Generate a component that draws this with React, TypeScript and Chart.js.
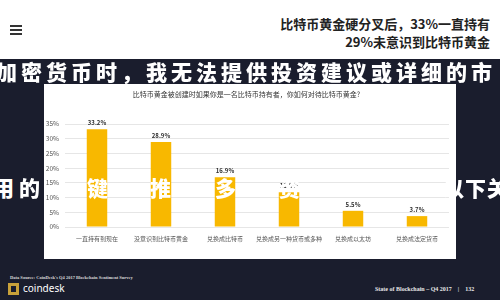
import React, { useEffect, useRef } from "react";
import { Chart, registerables } from "chart.js";

Chart.register(...registerables);

const chartTitle = "比特币黄金被创建时如果你是一名比特币持有者，你如何对待比特币黄金?";
const categories = [
  "一直持有到现在",
  "没意识到比特币黄金",
  "兑换成比特币",
  "兑换成另一种货币或多种",
  "兑换成以太坊",
  "兑换成法定货币",
];
const values = [33.2, 28.9, 16.9, 11.8, 5.5, 3.7];
const yMax = 35;
const yStep = 5;

const headline1 = "比特币黄金硬分叉后，33%一直持有";
const headline2 = "29%未意识到比特币黄金";
const overlayLine1 = "加密货币时，我无法提供投资建议或详细的市";
const overlayLine2 = [
  { ch: "用", x: -7 },
  { ch: "的", x: 19 },
  { ch: "键", x: 87 },
  { ch: "推", x: 150 },
  { ch: "多", x: 215 },
  { ch: "资", x: 279 },
  { ch: "以", x: 443 },
  { ch: "下", x: 465 },
  { ch: "关", x: 487 },
];
const sourceText = "Data Source: CoinDesk's Q4 2017 Blockchain Sentiment Survey";
const footerText = "State of Blockchain – Q4 2017";
const pageNumber = "132";

const CJK = '"Noto Sans CJK SC", "Noto Sans", sans-serif';
const BAR = "#F8B800";

const valueLabels = {
  id: "valueLabels",
  afterDatasetsDraw(chart: any) {
    const ctx = chart.ctx;
    const meta = chart.getDatasetMeta(0);
    ctx.save();
    ctx.font = `bold 6px ${CJK}`;
    ctx.fillStyle = "#333";
    ctx.textAlign = "center";
    ctx.textBaseline = "bottom";
    meta.data.forEach((bar: any, i: number) => {
      ctx.fillText(values[i].toFixed(1) + "%", bar.x, bar.y - 3.5);
    });
    ctx.restore();
  },
};

function BarChart() {
  const ref = useRef<HTMLCanvasElement>(null);
  useEffect(() => {
    if (!ref.current) return;
    const chart = new Chart(ref.current, {
      type: "bar",
      data: {
        labels: categories,
        datasets: [
          {
            data: values,
            backgroundColor: BAR,
            borderWidth: 0,
            categoryPercentage: 1,
            barPercentage: 0.32,
          },
        ],
      },
      options: {
        animation: false,
        responsive: true,
        maintainAspectRatio: false,
        layout: { padding: { left: 0, right: 7, top: 0, bottom: 0 } },
        plugins: {
          legend: { display: false },
          tooltip: { enabled: false },
          title: {
            display: true,
            text: chartTitle,
            color: "#333",
            font: { size: 7, family: CJK, weight: "normal" },
            padding: { top: 6, bottom: 25.6 },
          },
        },
        scales: {
          x: {
            grid: { display: false, drawTicks: false },
            border: { display: false },
            ticks: {
              color: "#555",
              font: { size: 6, family: CJK },
              padding: 8,
              maxRotation: 0,
              autoSkip: false,
            },
            afterFit: (s: any) => {
              s.height = 32;
            },
          },
          y: {
            min: 0,
            max: yMax,
            ticks: {
              stepSize: yStep,
              callback: (v: any) => v + "%",
              color: "#555",
              font: { size: 6.5, family: CJK },
              padding: 6,
            },
            grid: { color: "#e6e6e6", drawTicks: false },
            border: { display: false },
            afterFit: (s: any) => {
              s.width = 21;
            },
          },
        },
      },
      plugins: [valueLabels],
    });
    return () => chart.destroy();
  }, []);
  return <canvas ref={ref} />;
}

export default function App() {
  const abs = (o: React.CSSProperties): React.CSSProperties => ({ position: "absolute", ...o });
  return (
    <div
      style={{
        position: "fixed",
        left: 0,
        top: 0,
        width: 500,
        height: 300,
        overflow: "hidden",
        background: "#1a1d2d",
        fontFamily: CJK,
      }}
    >
      {/* top white header */}
      <div style={abs({ left: 0, top: 0, width: 500, height: 59, background: "#ffffff" })} />
      {/* hamburger */}
      {[0, 4, 8].map((d) => (
        <div key={d} style={abs({ left: 10, top: 25 + d, width: 12, height: 2, background: "#333" })} />
      ))}
      <div
        style={abs({
          right: 10,
          top: 15,
          textAlign: "right",
          fontSize: 13,
          fontWeight: 700,
          color: "#222",
          lineHeight: "18px",
          whiteSpace: "nowrap",
        })}
      >
        <div>{headline1}</div>
        <div>{headline2}</div>
      </div>

      {/* white panel with chart */}
      <div style={abs({ left: 44, top: 84, width: 412, height: 175, background: "#ffffff" })}>
        <div style={{ position: "relative", width: 412, height: 175 }}>
          <BarChart />
        </div>
      </div>

      {/* overlay lines */}
      <div
        style={abs({
          left: -4,
          top: 58,
          fontSize: 21,
          fontWeight: 900,
          color: "#ffffff",
          letterSpacing: 4,
          whiteSpace: "nowrap",
          lineHeight: "26px",
          zIndex: 5,
        })}
      >
        {overlayLine1}
      </div>
      {overlayLine2.map((c, i) => (
        <div
          key={i}
          style={abs({
            left: c.x,
            top: 175,
            fontSize: 21,
            fontWeight: 900,
            color: "#ffffff",
            lineHeight: "24px",
            zIndex: 5,
          })}
        >
          {c.ch}
        </div>
      ))}

      {/* footer */}
      <div
        style={abs({
          left: 10,
          top: 275,
          fontSize: 4.5,
          fontFamily: '"Liberation Serif", serif',
          fontWeight: 700,
          color: "#d8d8d8",
          whiteSpace: "nowrap",
        })}
      >
        {sourceText}
      </div>
      <div style={abs({ left: 8, top: 283, width: 11, height: 12, background: "#c8a13a" })} />
      <div style={abs({ left: 11, top: 286, width: 5, height: 6, background: "#1a1d2d" })} />
      <div
        style={abs({
          left: 23,
          top: 281,
          fontSize: 10,
          fontFamily: '"Noto Sans", sans-serif',
          color: "#ffffff",
          lineHeight: "14px",
        })}
      >
        coindesk
      </div>
      <div
        style={abs({
          left: 375,
          top: 285,
          fontSize: 6,
          fontFamily: '"Liberation Serif", serif',
          fontWeight: 700,
          color: "#e8e8e8",
          whiteSpace: "nowrap",
          lineHeight: "8px",
        })}
      >
        {footerText}
        <span style={{ margin: "0 6px" }}>|</span>
        {pageNumber}
      </div>
    </div>
  );
}
